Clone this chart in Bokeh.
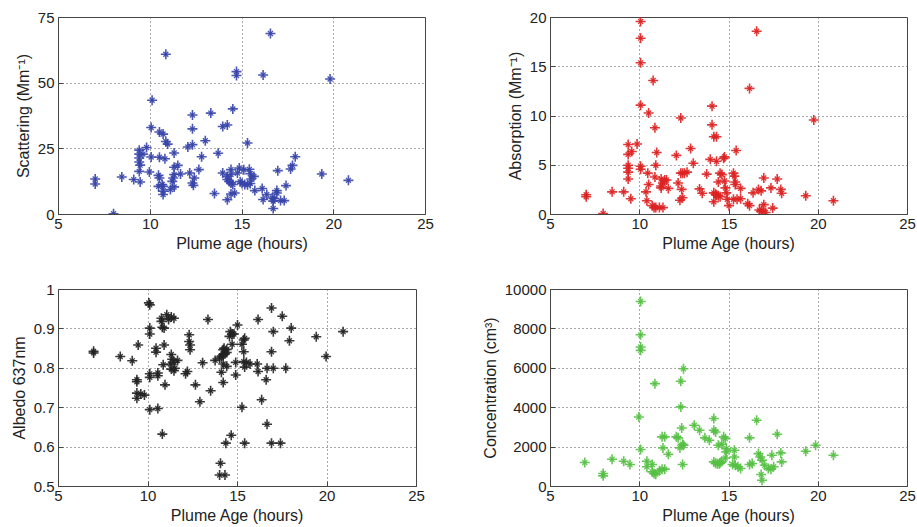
from bokeh.plotting import figure
from bokeh.layouts import column, row
from bokeh.models import FixedTicker, Range1d
from bokeh.embed import file_html
from bokeh.resources import INLINE

# ---------------- data ----------------
scat_age = [7.0, 7.0, 8.0, 8.45, 9.1, 9.4, 9.4, 9.4, 9.4, 9.45, 9.4, 9.45, 9.6, 9.8, 10.1, 10.05, 10.05, 9.95,
            10.5, 10.7, 10.85, 10.85, 10.95, 10.5, 10.8, 10.45, 10.5, 10.45, 10.7, 10.7, 10.7, 10.65, 11.2, 11.1,
            11.3, 11.3, 11.25, 11.3, 11.3, 11.5, 11.65, 12.05, 12.15, 12.3, 12.3, 12.3, 12.3, 12.35, 12.4, 12.65,
            12.8, 13.0, 13.3, 13.5, 13.7, 13.95, 14.2, 13.95, 14.2, 14.2, 14.3, 14.4, 14.5, 14.2, 14.4, 14.5, 14.6,
            14.4, 14.4, 14.7, 14.7, 14.75, 14.85, 14.9, 15.0, 15.15, 15.3, 15.45, 15.5, 15.45, 15.4, 15.1, 15.3,
            15.65, 15.7, 16.15, 16.1, 16.15, 16.35, 16.55, 16.65, 16.7, 16.75, 16.7, 16.9, 16.9, 16.95, 17.1, 17.3,
            17.4, 17.65, 17.75, 17.9, 19.35, 19.8, 20.8]
scat_val = [13.5, 11.6, 0.3, 14.3, 13.3, 24.5, 23.0, 21.5, 20.0, 18.8, 16.4, 12.4, 23.0, 25.5, 43.5, 33.1, 21.9, 16.2,
            31.4, 30.6, 61.0, 27.8, 26.8, 21.8, 21.2, 14.9, 13.9, 10.7, 10.7, 8.9, 7.6, 11.4, 12.6, 9.5,
            10.5, 23.4, 13.9, 15.2, 18.0, 18.7, 15.4, 25.7, 15.8, 26.6, 37.9, 32.6, 12.0, 11.1, 13.9, 17.1,
            22.0, 28.1, 38.6, 8.0, 23.3, 33.5, 34.1, 15.8, 14.5, 13.3, 12.6, 12.0, 11.4, 5.6, 7.8, 40.2, 8.2,
            17.1, 15.2, 54.4, 52.9, 15.8, 17.7, 12.5, 11.8, 11.4, 11.3, 11.8, 13.5, 15.5, 17.2, 17.0, 27.2,
            14.5, 9.1, 53.1, 9.9, 5.7, 7.6, 68.9, 6.3, 5.1, 6.1, 2.3, 8.2, 9.1, 16.7, 5.3, 5.3,
            11.0, 17.3, 18.7, 22.0, 15.4, 51.6, 13.0]

abs_age = [7.0, 7.0, 7.95, 8.45, 9.1, 9.35, 9.35, 9.35, 9.35, 9.35, 9.35, 9.55, 9.5, 9.85, 10.05, 10.05, 10.05,
           10.05, 10.05, 10.05, 10.5, 10.45, 10.5, 10.35, 10.4, 10.7, 10.8, 10.9, 10.75, 10.85, 10.9, 10.85, 10.95,
           11.1, 11.2, 11.3, 11.2, 11.2, 11.4, 11.5, 11.3, 11.6, 12.05, 12.15, 12.25, 12.3, 12.4, 12.5, 12.3,
           12.35, 12.4, 12.65, 12.85, 13.0, 13.35, 13.5, 13.75, 13.95, 14.05, 14.05, 14.15, 14.3, 14.15, 14.25,
           14.3, 14.4, 14.5, 14.15, 14.3, 14.4, 14.5, 14.6, 14.7, 14.75, 14.75, 14.8, 14.85, 15.0, 14.9, 15.25,
           15.3, 15.35, 15.35, 15.45, 15.25, 15.4, 15.65, 15.65, 16.05, 16.15, 16.15, 16.35, 16.55, 16.65, 16.8,
           16.7, 16.8, 16.85, 16.95, 16.95, 17.05, 17.45, 17.35, 17.7, 17.9, 17.95, 19.3, 19.75, 20.85]
abs_val = [2.0, 1.8, 0.1, 2.3, 2.3, 7.1, 6.1, 5.0, 4.7, 4.3, 3.6, 6.4, 1.6, 7.15, 19.6, 17.9, 15.4,
           11.1, 4.9, 4.6, 10.3, 4.2, 3.05, 2.3, 1.4, 0.9, 0.7, 0.7, 13.6, 8.8, 5.0, 3.8, 6.3,
           0.7, 3.6, 3.2, 2.9, 2.7, 3.5, 3.5, 0.7, 2.65, 6.0, 3.2, 1.45, 4.2, 4.2, 4.2, 9.8,
           2.55, 1.7, 4.3, 6.7, 5.2, 2.6, 2.15, 4.1, 5.6, 11.0, 9.1, 7.9, 7.9, 2.2, 2.05,
           1.95, 1.9, 1.8, 1.3, 5.4, 3.3, 4.2, 4.05, 5.7, 5.85, 3.4, 2.7, 2.2, 0.9, 1.55, 4.2,
           3.9, 3.3, 3.05, 1.55, 1.55, 6.5, 2.65, 1.6, 1.1, 0.9, 12.8, 2.2, 18.6, 2.55, 2.4,
           0.45, 0.3, 0.45, 3.7, 1.0, 0.2, 0.65, 2.7, 3.6, 2.55, 2.15, 1.9, 9.6, 1.4]

alb_age = [6.96, 6.96, 8.45, 9.12, 9.38, 9.38, 9.38, 9.38, 9.45, 9.6, 9.8, 10.05, 10.1, 10.1, 10.1, 10.1, 10.1,
           10.1, 10.45, 10.45, 10.55, 10.55, 10.55, 10.75, 10.75, 10.8, 10.9, 10.8, 10.9, 10.85, 10.95, 11.05,
           11.15, 11.3, 11.45, 11.3, 11.35, 11.45, 11.25, 11.3, 11.45, 11.65, 11.5, 12.1, 12.2, 12.3, 12.3,
           12.35, 12.35, 12.65, 12.9, 13.05, 13.35, 13.5, 13.75, 14.0, 14.1, 14.2, 14.3, 14.4, 14.2, 14.25,
           14.4, 14.05, 14.0, 14.3, 14.2, 14.1, 14.2, 14.35, 14.4, 14.6, 14.7, 14.8, 14.55, 14.7, 14.65, 14.9,
           14.9, 15.0, 15.25, 15.35, 15.4, 15.25, 15.35, 15.35, 15.4, 15.4, 15.5, 15.7, 16.1, 16.15, 16.15,
           16.35, 16.6, 16.65, 16.65, 16.9, 16.9, 16.9, 17.0, 17.0, 17.4, 17.5, 17.7, 17.9, 18.0, 19.4, 19.95,
           20.9]
alb_val = [0.843, 0.839, 0.83, 0.819, 0.771, 0.766, 0.737, 0.724, 0.859, 0.735, 0.732, 0.966, 0.961, 0.902, 0.887,
           0.786, 0.777, 0.695, 0.851, 0.841, 0.788, 0.781, 0.698, 0.927, 0.919, 0.904, 0.902, 0.633, 0.859, 0.809,
           0.758, 0.936, 0.924, 0.93, 0.927, 0.835, 0.823, 0.815, 0.811, 0.798, 0.794, 0.82, 0.8, 0.786, 0.792,
           0.885, 0.868, 0.859, 0.847, 0.758, 0.715, 0.814, 0.924, 0.743, 0.82, 0.826, 0.83, 0.834, 0.837, 0.84,
           0.847, 0.851, 0.848, 0.559, 0.529, 0.529, 0.811, 0.79, 0.764, 0.61, 0.805, 0.893, 0.887, 0.887, 0.881,
           0.861, 0.63, 0.783, 0.815, 0.91, 0.861, 0.872, 0.876, 0.701, 0.842, 0.817, 0.803, 0.61, 0.815, 0.811,
           0.811, 0.792, 0.924, 0.72, 0.771, 0.8, 0.658, 0.953, 0.842, 0.61, 0.893, 0.8, 0.61, 0.932, 0.8, 0.87,
           0.902, 0.88, 0.83, 0.893]

conc_age = [6.92, 7.95, 7.95, 8.45, 9.1, 9.45, 9.95, 10.05, 10.05, 10.05, 10.05, 10.05, 10.4, 10.4, 10.7, 10.7,
            10.8, 10.9, 10.85, 11.1, 11.25, 11.4, 11.25, 11.4, 11.3, 11.6, 12.05, 12.15, 12.25, 12.3, 12.3, 12.35,
            12.4, 12.45, 12.4, 12.45, 13.05, 13.35, 13.65, 13.9, 14.15, 14.15, 14.25, 14.15, 14.25, 14.35, 14.45,
            14.5, 14.6, 14.4, 14.6, 14.7, 14.8, 14.85, 14.85, 14.8, 15.3, 15.3, 15.2, 15.35, 15.5, 15.65, 16.15,
            16.15, 16.3, 16.55, 16.65, 16.75, 16.85, 16.8, 16.85, 17.0, 17.2, 17.35, 17.5, 17.4, 17.7, 17.9, 17.95,
            19.3, 19.85, 20.85]
conc_val = [1216, 660, 540, 1385, 1284, 1115, 3530, 9390, 7700, 7080, 6910, 1875, 1284, 1000, 1115, 740,
            660, 625, 5220, 800, 880, 880, 2520, 2520, 1960, 1640, 2520, 2470, 1960, 5340, 4040, 2970,
            2145, 2095, 1115, 5980, 3110, 2855, 2470, 2350, 3450, 2855, 2770, 1250, 1180, 1150, 1150,
            1200, 1280, 2095, 2145, 2520, 2430, 1925, 1760, 1450, 1840, 1500, 1115, 1080, 1000, 910, 2470,
            1115, 1165, 3360, 1670, 1500, 1335, 610, 320, 1080, 910, 880, 1000, 1590, 2650, 1705, 1250,
            1790, 2095, 1590]

x_ticks = [5, 10, 15, 20, 25]

FONT = "Liberation Sans"


def make_panel(xs, ys, color, xlabel, ylabel, yr, yticks, width, height, bl, br, bt, bb, overrides=None):
    p = figure(width=width, height=height, output_backend="svg", toolbar_location=None,
               x_range=Range1d(5, 25), y_range=Range1d(*yr),
               min_border_left=bl, min_border_right=br, min_border_top=bt, min_border_bottom=bb)
    p.scatter(xs, ys, marker="cross", size=10, line_color=color, line_width=1.6, line_alpha=0.9)
    p.scatter(xs, ys, marker="x", size=7, line_color=color, line_width=1.3, line_alpha=0.9)
    p.xaxis.ticker = FixedTicker(ticks=x_ticks)
    p.yaxis.ticker = FixedTicker(ticks=yticks)
    if overrides:
        p.yaxis.major_label_overrides = overrides
    p.xaxis.axis_label = xlabel
    p.yaxis.axis_label = ylabel
    for ax in (p.xaxis, p.yaxis):
        ax.axis_label_text_font = FONT
        ax.axis_label_text_font_style = "normal"
        ax.axis_label_text_font_size = "16px"
        ax.axis_label_text_color = "#222222"
        ax.major_label_text_font = FONT
        ax.major_label_text_font_size = "15px"
        ax.major_label_text_color = "#222222"
        ax.major_tick_in = 5
        ax.major_tick_out = 0
        ax.minor_tick_line_color = None
        ax.axis_line_color = "#444444"
        ax.major_tick_line_color = "#444444"
        ax.major_label_standoff = 4
        ax.axis_label_standoff = 3
    p.grid.grid_line_color = "#555555"
    p.grid.grid_line_dash = "1 3"
    p.grid.grid_line_width = 1
    p.outline_line_color = "#444444"
    p.outline_line_alpha = 1
    p.background_fill_color = "white"
    p.border_fill_color = "white"
    return p


p1 = make_panel(scat_age, scat_val, "#3644a8", "Plume age (hours)", "Scattering (Mm\u207b\u00b9)",
                (0, 75), [0, 25, 50, 75], 458, 265, 58, 33, 16, 51)
p2 = make_panel(abs_age, abs_val, "#dd2222", "Plume Age (hours)", "Absorption (Mm\u207b\u00b9)",
                (0, 20), [0, 5, 10, 15, 20], 459, 265, 92, 10, 17, 50)
p3 = make_panel(alb_age, alb_val, "#222222", "Plume Age (hours)", "Albedo 637nm",
                (0.5, 1.0), [0.5, 0.6, 0.7, 0.8, 0.9, 1.0], 458, 262, 58, 42, 24, 41,
                overrides={1: "1", 1.0: "1"})
p4 = make_panel(conc_age, conc_val, "#55c044", "Plume Age (hours)", "Concentration (cm\u00b3)",
                (0, 10000), [0, 2000, 4000, 6000, 8000, 10000], 459, 262, 92, 10, 24, 41)

layout = column(row(p1, p2, spacing=0), row(p3, p4, spacing=0), spacing=0)

open("out.html", "w").write(file_html(layout, INLINE))
